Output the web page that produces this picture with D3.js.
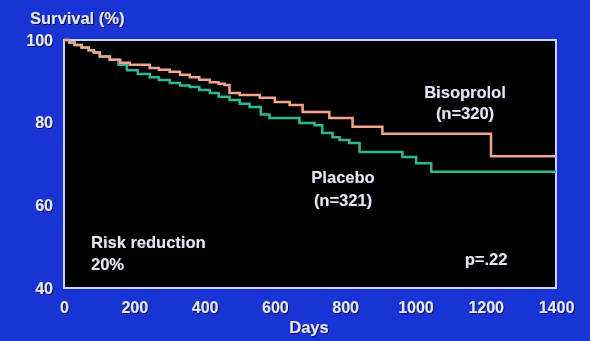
<!DOCTYPE html>
<html>
<head>
<meta charset="utf-8">
<script src="https://cdn.jsdelivr.net/npm/d3@7"></script>
<style>
  html, body { margin: 0; padding: 0; background: #1834d4; }
  svg text { font-family: "Liberation Sans", Arial, sans-serif; font-weight: bold; fill: #e6e6ee; }
</style>
</head>
<body>
<div id="chart"></div>
<script>
// survival curves: [day, survival %]
var bisoprolol = [
    [0, 100], [15, 99.4], [30, 98.8], [50, 98.2], [70, 97.5], [85, 97.0],
    [102, 96.0], [130, 95.2], [160, 94.5], [187, 94.0], [244, 93.2], [270, 92.8],
    [301, 92.3], [330, 91.6], [358, 91.0], [385, 90.4], [415, 89.8], [440, 89.4],
    [457, 89.1], [471, 87.2], [500, 86.7], [557, 86.0], [600, 85.0], [642, 84.3],
    [679, 82.6], [755, 81.1], [821, 79.0], [906, 77.3], [1215, 71.9], [1400, 71.9]
];
var placebo = [
    [0, 100], [15, 99.4], [30, 98.8], [50, 98.2], [70, 97.5], [85, 97.0],
    [102, 96.0], [131, 95.2], [155, 94.0], [179, 92.7], [210, 91.8], [244, 91.0],
    [270, 90.3], [301, 89.6], [330, 89.0], [358, 88.6], [385, 87.9], [415, 87.2],
    [440, 86.3], [471, 85.5], [500, 84.6], [528, 83.8], [560, 82.0], [585, 81.1],
    [670, 79.9], [713, 79.4], [735, 77.5], [764, 76.5], [784, 75.8], [812, 75.1],
    [841, 72.9], [963, 71.7], [1002, 70.2], [1045, 68.1], [1400, 68.1]
];
var x_ticks = [0, 200, 400, 600, 800, 1000, 1200, 1400];
var y_ticks = [40, 60, 80, 100];

/*
 *  layout
 */
var view_width = 590;
var view_height = 341;
var margin = {top: 40, bottom: 53, left: 64, right: 34};
var width = view_width - margin.left - margin.right;
var height = view_height - margin.top - margin.bottom;

var svg = d3.select('#chart')
    .append('svg')
        .attr('width', view_width)
        .attr('height', view_height);

var defs = svg.append('defs');
defs.append('filter')
    .attr('id', 'shadow')
    .append('feDropShadow')
        .attr('dx', 1)
        .attr('dy', 1)
        .attr('stdDeviation', 0.6)
        .attr('flood-color', '#000030')
        .attr('flood-opacity', 0.8);

var g = svg.append('g')
    .attr('transform', 'translate(' + margin.left + ',' + margin.top + ')');

var x_scale = d3.scaleLinear()
    .domain([0, 1400])
    .range([0, width]);
var y_scale = d3.scaleLinear()
    .domain([40, 100])
    .range([height, 0]);

// black plot area with light frame
g.append('rect')
    .attr('x', 0)
    .attr('y', 0)
    .attr('width', width)
    .attr('height', height)
    .attr('fill', '#000000')
    .attr('stroke', '#c8d4ff')
    .attr('stroke-width', 2);

g.append('g')
    .attr('class', 'y axis')
    .call(d3.axisLeft(y_scale).tickValues(y_ticks).tickSize(0).tickPadding(11));
g.append('g')
    .attr('class', 'x axis')
    .attr('transform', 'translate(0,' + height + ')')
    .call(d3.axisBottom(x_scale).tickValues(x_ticks).tickFormat(d3.format('d')).tickSize(0).tickPadding(14));

svg.selectAll('.axis .domain').remove();
svg.selectAll('.axis text')
    .style('font-size', '16px')
    .attr('fill', '#e6e6ee')
    .attr('filter', 'url(#shadow)');

var line = d3.line()
    .curve(d3.curveStepAfter)
    .x(function(d) { return x_scale(d[0]); })
    .y(function(d) { return y_scale(d[1]); });

g.append('path')
    .datum(placebo)
    .attr('fill', 'none')
    .attr('stroke', '#2fb894')
    .attr('stroke-width', 2.5)
    .attr('d', line);

g.append('path')
    .datum(bisoprolol)
    .attr('fill', 'none')
    .attr('stroke', '#f2a48e')
    .attr('stroke-width', 2.5)
    .attr('d', line);

function label(txt, x, y, anchor, size) {
    svg.append('text')
        .attr('x', x)
        .attr('y', y)
        .attr('text-anchor', anchor)
        .attr('filter', 'url(#shadow)')
        .style('font-size', size + 'px')
        .text(txt);
}

label('Survival (%)', 30, 24, 'start', 16.5);
label('Days', 309, 333, 'middle', 16.5);
label('Bisoprolol', 465, 98, 'middle', 16.5);
label('(n=320)', 465, 119, 'middle', 16.5);
label('Placebo', 343, 183, 'middle', 16.5);
label('(n=321)', 343, 206, 'middle', 16.5);
label('Risk reduction', 91, 248, 'start', 16.5);
label('20%', 91, 270, 'start', 16.5);
label('p=.22', 486, 265, 'middle', 16.5);
</script>
</body>
</html>
